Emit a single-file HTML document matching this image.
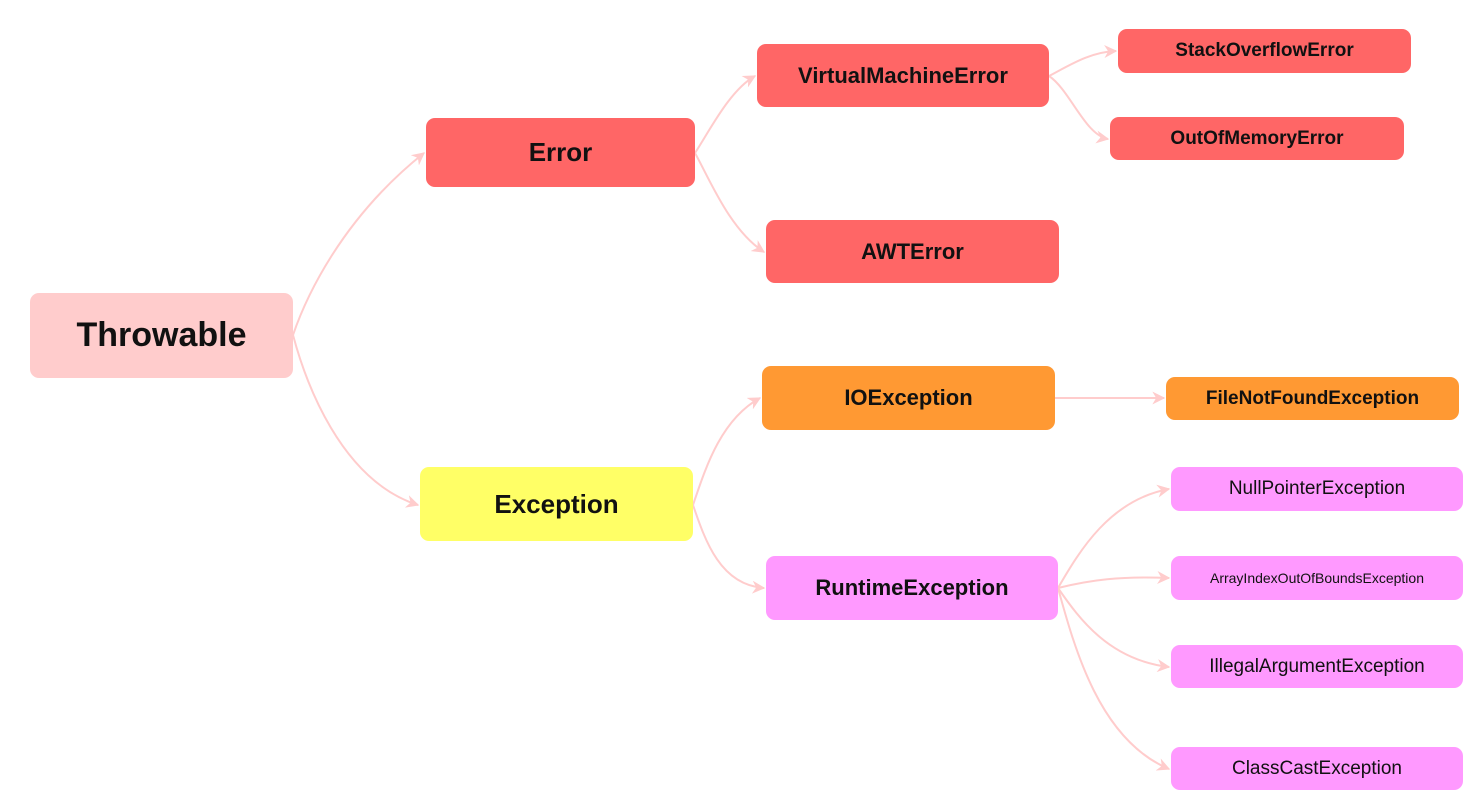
<!DOCTYPE html>
<html><head><meta charset="utf-8"><style>
body{margin:0;width:1482px;height:803px;background:#fff;position:relative;overflow:hidden;font-family:"Comic Sans MS","Liberation Sans",sans-serif;}
.n{position:absolute;border-radius:9px;display:flex;align-items:center;justify-content:center;font-weight:bold;color:#111;}
svg{position:absolute;left:0;top:0;}
</style></head><body>
<svg width="1482" height="803">
<defs><marker id="a" viewBox="0 0 10 10" refX="9" refY="5" markerWidth="13" markerHeight="13" orient="auto" markerUnits="userSpaceOnUse"><path d="M0,0 L10,5 L0,10 L3,5 z" fill="#ffcccc"/></marker></defs>
<g fill="none" stroke="#ffcccc" stroke-width="2" marker-end="url(#a)">
<path d="M293,335 C305,300 340,220 424,153"/>
<path d="M293,335 C305,380 340,480 418,505"/>
<path d="M695,153 C710,130 730,90 755,76"/>
<path d="M695,153 C710,180 730,230 764,252"/>
<path d="M1049,76 C1070,65 1090,52 1116,51"/>
<path d="M1049,76 C1070,90 1085,135 1108,139"/>
<path d="M693,505 C705,470 720,420 760,398"/>
<path d="M693,505 C705,540 720,585 764,588"/>
<path d="M1055,398 L1164,398"/>
<path d="M1058,588 C1080,550 1110,500 1169,489"/>
<path d="M1058,588 C1090,580 1120,576 1169,578"/>
<path d="M1058,588 C1080,620 1110,660 1169,667"/>
<path d="M1058,588 C1075,650 1100,740 1169,769"/>
</g></svg>
<div class="n" style="left:30px;top:293px;width:263px;height:85px;background:#ffcccc;font-size:34px">Throwable</div>
<div class="n" style="left:426px;top:118px;width:269px;height:69px;background:#ff6666;font-size:26px">Error</div>
<div class="n" style="left:420px;top:467px;width:273px;height:74px;background:#ffff66;font-size:26px">Exception</div>
<div class="n" style="left:757px;top:44px;width:292px;height:63px;background:#ff6666;font-size:22px">VirtualMachineError</div>
<div class="n" style="left:766px;top:220px;width:293px;height:63px;background:#ff6666;font-size:22px">AWTError</div>
<div class="n" style="left:1118px;top:29px;width:293px;height:44px;background:#ff6666;font-size:19px">StackOverflowError</div>
<div class="n" style="left:1110px;top:117px;width:294px;height:43px;background:#ff6666;font-size:19px">OutOfMemoryError</div>
<div class="n" style="left:762px;top:366px;width:293px;height:64px;background:#ff9933;font-size:22px">IOException</div>
<div class="n" style="left:1166px;top:377px;width:293px;height:43px;background:#ff9933;font-size:19px">FileNotFoundException</div>
<div class="n" style="left:766px;top:556px;width:292px;height:64px;background:#ff99ff;font-size:22px">RuntimeException</div>
<div class="n" style="left:1171px;top:467px;width:292px;height:44px;background:#ff99ff;font-size:19px;font-weight:normal">NullPointerException</div>
<div class="n" style="left:1171px;top:556px;width:292px;height:44px;background:#ff99ff;font-size:14px;font-weight:normal">ArrayIndexOutOfBoundsException</div>
<div class="n" style="left:1171px;top:645px;width:292px;height:43px;background:#ff99ff;font-size:19px;font-weight:normal">IllegalArgumentException</div>
<div class="n" style="left:1171px;top:747px;width:292px;height:43px;background:#ff99ff;font-size:19px;font-weight:normal">ClassCastException</div>
</body></html>
